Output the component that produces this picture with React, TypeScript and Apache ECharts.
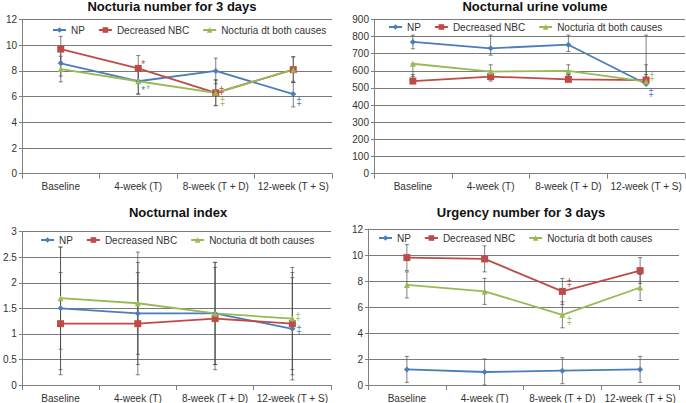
import React, { useEffect, useRef } from "react";
import * as echarts from "echarts";

const categories = ["Baseline", "4-week (T)", "8-week (T + D)", "12-week (T + S)"];
const seriesNames = ["NP", "Decreased NBC", "Nocturia dt both causes"];
const colors = ["#4a7ebb", "#be4b48", "#98b954"];
const symbols = ["diamond", "rect", "triangle"];
const symbolSizes = [6, 7, 6];

// Panel 1: Nocturia number for 3 days
const nocNP = [8.6, 7.2, 8.0, 6.2];
const nocNBC = [9.7, 8.2, 6.3, 8.1];
const nocBoth = [8.15, 7.2, 6.3, 8.1];
const nocNPUp = [1, 1, 1, 1];
const nocNPDown = [1, 1, 1, 1];
const nocNBCUp = [1, 1, 1, 1];
const nocNBCDown = [1, 1, 1, 1];
const nocBothUp = [1, 1, 1, 1];
const nocBothDown = [1, 1, 1, 1];
const nocTicks = [0, 12, 2];
// [series, category, value, text]
const nocNotes: [number, number, number, string][] = [
  [1, 1, 8.5, "*"],
  [0, 1, 6.45, "*"],
  [2, 1, 6.55, "*"],
  [1, 2, 6.45, "‡"],
  [2, 2, 5.6, "‡"],
  [0, 3, 5.6, "‡"],
];
const nocNoteDx = [3, 3, 8, 3, 4, 3];

// Panel 2: Nocturnal urine volume
const volNP = [768, 731, 752, 523];
const volNBC = [540, 566, 550, 546];
const volBoth = [641, 595, 599, 537];
const volNPUp = [40, 77, 56, 285];
const volNPDown = [40, 40, 40, 0];
const volNBCUp = [38, 34, 28, 32];
const volNBCDown = [0, 26, 0, 16];
const volBothUp = [0, 40, 36, 98];
const volBothDown = [75, 0, 24, 0];
const volTicks = [0, 900, 100];
const volNotes: [number, number, number, string][] = [
  [0, 3, 476, "‡"],
  [2, 3, 569, "‡"],
];
const volNoteDx = [2, 3];

// Panel 3: Nocturnal index
const idxNP = [1.5, 1.4, 1.4, 1.1];
const idxNBC = [1.2, 1.2, 1.3, 1.2];
const idxBoth = [1.7, 1.6, 1.4, 1.3];
const idxNPUp = [1.2, 1, 1, 1];
const idxNPDown = [1.2, 1, 1, 1];
const idxNBCUp = [1, 1, 1, 1];
const idxNBCDown = [1, 1, 1, 1];
const idxBothUp = [1, 1, 1, 1];
const idxBothDown = [1, 1, 1, 1];
const idxTicks = [0, 3, 0.5];
const idxNotes: [number, number, number, string][] = [
  [2, 3, 1.34, "‡"],
  [0, 3, 1.09, "‡"],
];
const idxNoteDx = [3, 4];

// Panel 4: Urgency number for 3 days
const urgNP = [1.2, 1.0, 1.1, 1.2];
const urgNBC = [9.8, 9.7, 7.2, 8.8];
const urgBoth = [7.7, 7.2, 5.4, 7.5];
const urgNPUp = [1, 1, 1, 1];
const urgNPDown = [1, 1, 1, 1];
const urgNBCUp = [1, 1, 1, 1];
const urgNBCDown = [1, 1, 1, 1];
const urgBothUp = [1, 1, 1, 1];
const urgBothDown = [1, 1, 1, 1];
const urgTicks = [0, 12, 2];
const urgNotes: [number, number, number, string][] = [
  [1, 2, 7.87, "‡"],
  [2, 2, 5.0, "‡"],
];
const urgNoteDx = [4, 4];

const FONT = "'Liberation Sans', Arial, Helvetica, sans-serif";

type Panel = {
  title: string;
  values: number[][];
  ups: number[][];
  downs: number[][];
  ticks: number[];
  notes: [number, number, number, string][];
  noteDx: number[];
  grid: { left: number; top: number; width: number; height: number };
  titleX: number;
  titleY: number;
  legendLeft: number;
  legendTop: number;
};

const panels: Panel[] = [
  {
    title: "Nocturia number for 3 days",
    values: [nocNP, nocNBC, nocBoth],
    ups: [nocNPUp, nocNBCUp, nocBothUp],
    downs: [nocNPDown, nocNBCDown, nocBothDown],
    ticks: nocTicks,
    notes: nocNotes,
    noteDx: nocNoteDx,
    grid: { left: 22, top: 19.6, width: 310, height: 154.1 },
    titleX: 172,
    titleY: 6,
    legendLeft: 52,
    legendTop: 25,
  },
  {
    title: "Nocturnal urine volume",
    values: [volNP, volNBC, volBoth],
    ups: [volNPUp, volNBCUp, volBothUp],
    downs: [volNPDown, volNBCDown, volBothDown],
    ticks: volTicks,
    notes: volNotes,
    noteDx: volNoteDx,
    grid: { left: 374, top: 19.3, width: 311, height: 154.4 },
    titleX: 535,
    titleY: 6,
    legendLeft: 388,
    legendTop: 22,
  },
  {
    title: "Nocturnal index",
    values: [idxNP, idxNBC, idxBoth],
    ups: [idxNPUp, idxNBCUp, idxBothUp],
    downs: [idxNPDown, idxNBCDown, idxBothDown],
    ticks: idxTicks,
    notes: idxNotes,
    noteDx: idxNoteDx,
    grid: { left: 20, top: 231.7, width: 311, height: 155.6 },
    titleX: 178,
    titleY: 212,
    legendLeft: 40,
    legendTop: 235,
  },
  {
    title: "Urgency number for 3 days",
    values: [urgNP, urgNBC, urgBoth],
    ups: [urgNPUp, urgNBCUp, urgBothUp],
    downs: [urgNPDown, urgNBCDown, urgBothDown],
    ticks: urgTicks,
    notes: urgNotes,
    noteDx: urgNoteDx,
    grid: { left: 368, top: 229, width: 311, height: 158.3 },
    titleX: 521,
    titleY: 212,
    legendLeft: 378,
    legendTop: 233,
  },
];

function buildOption() {
  const grid: any[] = [];
  const xAxis: any[] = [];
  const yAxis: any[] = [];
  const legend: any[] = [];
  const series: any[] = [];
  const graphic: any[] = [];

  panels.forEach((p, pi) => {
    grid.push({ ...p.grid, containLabel: false });
    xAxis.push({
      type: "category",
      gridIndex: pi,
      data: categories,
      boundaryGap: true,
      axisLine: { show: true, lineStyle: { color: "#808080", width: 1 } },
      axisTick: { show: true, length: 5, lineStyle: { color: "#808080" } },
      axisLabel: { fontSize: 10, color: "#333", fontFamily: FONT, margin: 8, interval: 0 },
      splitLine: { show: false },
    });
    yAxis.push({
      type: "value",
      gridIndex: pi,
      min: p.ticks[0],
      max: p.ticks[1],
      interval: p.ticks[2],
      axisLine: { show: true, lineStyle: { color: "#808080", width: 1 } },
      axisTick: { show: true, length: 3, lineStyle: { color: "#808080" } },
      axisLabel: { fontSize: 10, color: "#333", fontFamily: FONT, margin: 5 },
      splitLine: { show: true, lineStyle: { color: "#7a7a7a", width: 1.2 } },
    });
    legend.push({
      left: p.legendLeft,
      top: p.legendTop,
      data: seriesNames,
      itemWidth: 13,
      itemHeight: 7,
      itemGap: 13,
      padding: 0,
      textStyle: { fontSize: 10, color: "#333", fontFamily: FONT },
      selectedMode: false,
    });

    // error bars
    p.values.forEach((vals, si) => {
      const errData = vals.map((v, ci) => [ci, v - p.downs[si][ci], v + p.ups[si][ci]]);
      series.push({
        type: "custom",
        xAxisIndex: pi,
        yAxisIndex: pi,
        z: 1,
        silent: true,
        clip: false,
        encode: { x: 0, y: [1, 2] },
        data: errData,
        renderItem: (params: any, api: any) => {
          const x = api.value(0);
          const lo = api.coord([x, api.value(1)]);
          const hi = api.coord([x, api.value(2)]);
          const cw = 2;
          const st = { stroke: "#4a4a4a", lineWidth: 0.7 };
          return {
            type: "group",
            children: [
              { type: "line", shape: { x1: lo[0], y1: lo[1], x2: hi[0], y2: hi[1] }, style: st },
              { type: "line", shape: { x1: lo[0] - cw, y1: lo[1], x2: lo[0] + cw, y2: lo[1] }, style: st },
              { type: "line", shape: { x1: hi[0] - cw, y1: hi[1], x2: hi[0] + cw, y2: hi[1] }, style: st },
            ],
          };
        },
      });
    });

    // lines
    p.values.forEach((vals, si) => {
      series.push({
        type: "line",
        name: seriesNames[si],
        xAxisIndex: pi,
        yAxisIndex: pi,
        data: vals,
        z: 3,
        symbol: symbols[si],
        symbolSize: symbolSizes[si],
        showAllSymbol: true,
        color: colors[si],
        lineStyle: { color: colors[si], width: 1.8 },
        itemStyle: { color: colors[si] },
      });
    });

    // annotations
    const notes = p.notes;
    const dxs = p.noteDx;
    series.push({
      type: "custom",
      xAxisIndex: pi,
      yAxisIndex: pi,
      z: 4,
      silent: true,
      clip: false,
      encode: { x: 0, y: 1 },
      data: notes.map((n) => [n[1], n[2]]),
      renderItem: (params: any, api: any) => {
        const idx = params.dataIndex;
        const n = notes[idx];
        const c = api.coord([api.value(0), api.value(1)]);
        return {
          type: "text",
          x: c[0] + dxs[idx],
          y: c[1],
          style: {
            text: n[3],
            fill: colors[n[0]],
            font: `10px ${FONT}`,
            align: "left",
            verticalAlign: "middle",
          },
        };
      },
    });

    graphic.push({
      type: "text",
      x: p.titleX,
      y: p.titleY,
      style: {
        text: p.title,
        fill: "#111",
        font: `bold 13px ${FONT}`,
        align: "center",
        verticalAlign: "middle",
      },
    });
  });

  return {
    animation: false,
    backgroundColor: "#ffffff",
    grid,
    xAxis,
    yAxis,
    legend,
    series,
    graphic,
  };
}

export default function App() {
  const ref = useRef<HTMLDivElement>(null);
  useEffect(() => {
    if (!ref.current) return;
    const chart = echarts.init(ref.current, undefined, { renderer: "svg" });
    chart.setOption(buildOption() as any);
    return () => chart.dispose();
  }, []);
  return (
    <div
      ref={ref}
      style={{ position: "absolute", left: 0, top: 0, width: 686, height: 403, background: "#fff" }}
    />
  );
}
